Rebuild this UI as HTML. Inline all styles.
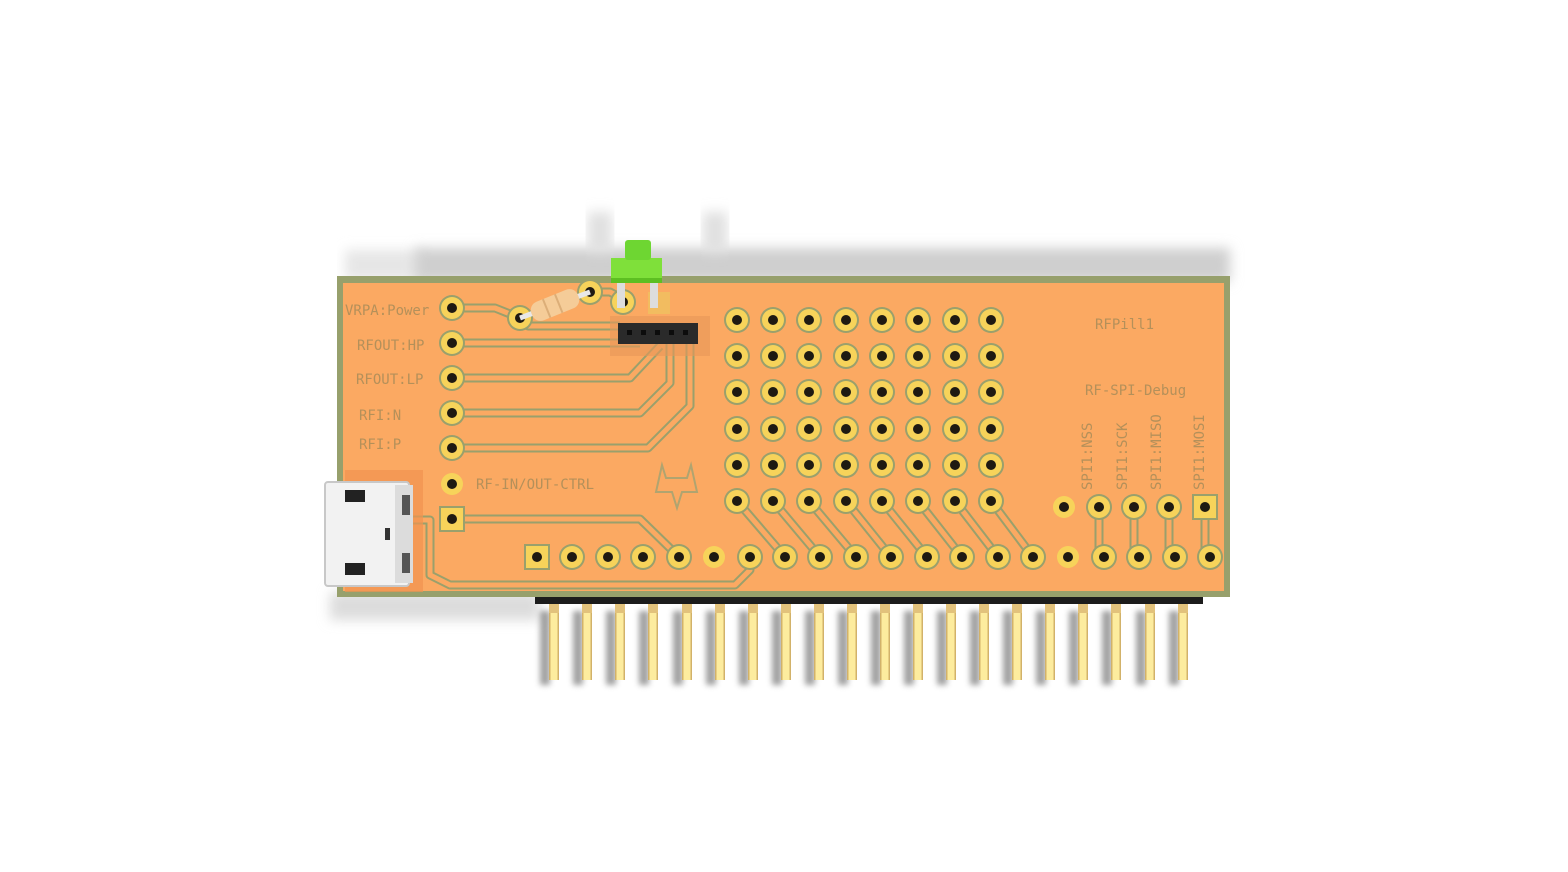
<!DOCTYPE html>
<html><head><meta charset="utf-8"><style>
html,body{margin:0;padding:0;background:#fff;width:1568px;height:872px;overflow:hidden}
text{font-family:"DejaVu Sans Mono","Liberation Mono",monospace;fill:#b4905a}
</style></head><body>
<svg width="1568" height="872" viewBox="0 0 1568 872" xmlns="http://www.w3.org/2000/svg">
<defs>
<filter id="bl" x="-10%" y="-50%" width="120%" height="200%"><feGaussianBlur stdDeviation="6"/></filter>
<filter id="bs" x="-100%" y="-20%" width="300%" height="140%"><feGaussianBlur stdDeviation="3"/></filter>
<g id="p"><circle r="13" fill="#9aa06c"/><circle r="11" fill="#f7d35a"/><circle r="5" fill="#1e1a12"/></g>
<g id="q"><circle r="11" fill="#f7d35a"/><circle r="5" fill="#1e1a12"/></g>
<g id="s"><rect x="-13" y="-13" width="26" height="26" fill="#9aa06c"/><rect x="-11" y="-11" width="22" height="22" fill="#f7d35a"/><circle r="5" fill="#1e1a12"/></g>
<g id="pin"><rect x="-14" y="8" width="10" height="74" fill="#555" opacity="0.55" filter="url(#bs)"/><rect x="-5" y="0" width="10" height="77" fill="#fdec9e"/><rect x="-5" y="0" width="1.5" height="77" fill="#d2b26a"/><rect x="3.5" y="0" width="1.5" height="77" fill="#d2b26a"/><rect x="-5" y="0" width="10" height="10" fill="#e2c27c"/></g>
</defs>
<!-- shadows -->
<rect x="345" y="250" width="80" height="30" fill="#e6e6e6" filter="url(#bl)"/>
<rect x="415" y="248" width="815" height="34" fill="#cfcfcf" filter="url(#bl)"/>
<rect x="588" y="212" width="24" height="40" fill="#e0e0e0" filter="url(#bl)"/>
<rect x="703" y="212" width="24" height="40" fill="#e0e0e0" filter="url(#bl)"/>
<rect x="330" y="592" width="210" height="28" fill="#dcdcdc" filter="url(#bl)"/>
<!-- pins -->
<g>
<use href="#pin" x="554" y="603"/><use href="#pin" x="587" y="603"/><use href="#pin" x="620" y="603"/><use href="#pin" x="653" y="603"/><use href="#pin" x="687" y="603"/><use href="#pin" x="720" y="603"/><use href="#pin" x="753" y="603"/><use href="#pin" x="786" y="603"/><use href="#pin" x="819" y="603"/><use href="#pin" x="852" y="603"/><use href="#pin" x="885" y="603"/><use href="#pin" x="918" y="603"/><use href="#pin" x="951" y="603"/><use href="#pin" x="984" y="603"/><use href="#pin" x="1017" y="603"/><use href="#pin" x="1050" y="603"/><use href="#pin" x="1083" y="603"/><use href="#pin" x="1116" y="603"/><use href="#pin" x="1150" y="603"/><use href="#pin" x="1183" y="603"/>
</g>
<rect x="535" y="596" width="668" height="8" fill="#1c1c1c"/>
<!-- board -->
<rect x="337" y="276" width="893" height="321" fill="#97a06c"/>
<rect x="343" y="283" width="881" height="308" fill="#fba962"/>
<!-- traces -->
<g fill="none" stroke-linejoin="round">
<g stroke="#9aa06c" stroke-width="9">
<path d="M452 308 H495 L520 318"/><path d="M590 292 H610 L625 300"/>
<path d="M452 343 H640"/><path d="M452 378 H630 L660 346"/>
<path d="M452 413 H640 L670 383 V340"/><path d="M452 448 H648 L690 406 V340"/>
<path d="M452 519 H640 L679 557"/>
<path d="M520 318 L528 326 L620 326"/>
<path d="M410 520 H430 V575 L450 585 H735 L750 570 V557"/>
<path d="M737 501 L785 557"/><path d="M773 501 L820 557"/><path d="M809 501 L856 557"/><path d="M846 501 L891 557"/><path d="M882 501 L927 557"/><path d="M918 501 L962 557"/><path d="M955 501 L998 557"/><path d="M991 501 L1033 557"/>
<path d="M1099 507 V557"/><path d="M1134 507 V557"/><path d="M1169 507 V557"/><path d="M1205 507 V557"/>
</g>
<g stroke="#fba962" stroke-width="5">
<path d="M452 308 H495 L520 318"/><path d="M590 292 H610 L625 300"/>
<path d="M452 343 H640"/><path d="M452 378 H630 L660 346"/>
<path d="M452 413 H640 L670 383 V340"/><path d="M452 448 H648 L690 406 V340"/>
<path d="M452 519 H640 L679 557"/>
<path d="M520 318 L528 326 L620 326"/>
<path d="M410 520 H430 V575 L450 585 H735 L750 570 V557"/>
<path d="M737 501 L785 557"/><path d="M773 501 L820 557"/><path d="M809 501 L856 557"/><path d="M846 501 L891 557"/><path d="M882 501 L927 557"/><path d="M918 501 L962 557"/><path d="M955 501 L998 557"/><path d="M991 501 L1033 557"/>
<path d="M1099 507 V557"/><path d="M1134 507 V557"/><path d="M1169 507 V557"/><path d="M1205 507 V557"/>
</g>
</g>
<!-- logo -->
<path d="M662 465 L656 492 L672 492 L677 508 L682 492 L697 492 L691 465 L687 478 H666 Z" fill="none" stroke="#b0a470" stroke-width="2"/>
<!-- grid pads -->
<g>
<use href="#p" x="737" y="320"/><use href="#p" x="773" y="320"/><use href="#p" x="809" y="320"/><use href="#p" x="846" y="320"/><use href="#p" x="882" y="320"/><use href="#p" x="918" y="320"/><use href="#p" x="955" y="320"/><use href="#p" x="991" y="320"/>
<use href="#p" x="737" y="356"/><use href="#p" x="773" y="356"/><use href="#p" x="809" y="356"/><use href="#p" x="846" y="356"/><use href="#p" x="882" y="356"/><use href="#p" x="918" y="356"/><use href="#p" x="955" y="356"/><use href="#p" x="991" y="356"/>
<use href="#p" x="737" y="392"/><use href="#p" x="773" y="392"/><use href="#p" x="809" y="392"/><use href="#p" x="846" y="392"/><use href="#p" x="882" y="392"/><use href="#p" x="918" y="392"/><use href="#p" x="955" y="392"/><use href="#p" x="991" y="392"/>
<use href="#p" x="737" y="429"/><use href="#p" x="773" y="429"/><use href="#p" x="809" y="429"/><use href="#p" x="846" y="429"/><use href="#p" x="882" y="429"/><use href="#p" x="918" y="429"/><use href="#p" x="955" y="429"/><use href="#p" x="991" y="429"/>
<use href="#p" x="737" y="465"/><use href="#p" x="773" y="465"/><use href="#p" x="809" y="465"/><use href="#p" x="846" y="465"/><use href="#p" x="882" y="465"/><use href="#p" x="918" y="465"/><use href="#p" x="955" y="465"/><use href="#p" x="991" y="465"/>
<use href="#p" x="737" y="501"/><use href="#p" x="773" y="501"/><use href="#p" x="809" y="501"/><use href="#p" x="846" y="501"/><use href="#p" x="882" y="501"/><use href="#p" x="918" y="501"/><use href="#p" x="955" y="501"/><use href="#p" x="991" y="501"/>
</g>
<!-- bottom row -->
<g>
<use href="#s" x="537" y="557"/><use href="#p" x="572" y="557"/><use href="#p" x="608" y="557"/><use href="#p" x="643" y="557"/><use href="#p" x="679" y="557"/><use href="#q" x="714" y="557"/><use href="#p" x="750" y="557"/><use href="#p" x="785" y="557"/><use href="#p" x="820" y="557"/><use href="#p" x="856" y="557"/><use href="#p" x="891" y="557"/><use href="#p" x="927" y="557"/><use href="#p" x="962" y="557"/><use href="#p" x="998" y="557"/><use href="#p" x="1033" y="557"/><use href="#q" x="1068" y="557"/><use href="#p" x="1104" y="557"/><use href="#p" x="1139" y="557"/><use href="#p" x="1175" y="557"/><use href="#p" x="1210" y="557"/>
<use href="#q" x="1064" y="507"/><use href="#p" x="1099" y="507"/><use href="#p" x="1134" y="507"/><use href="#p" x="1169" y="507"/><use href="#s" x="1205" y="507"/>
<use href="#p" x="452" y="308"/><use href="#p" x="452" y="343"/><use href="#p" x="452" y="378"/><use href="#p" x="452" y="413"/><use href="#p" x="452" y="448"/><use href="#q" x="452" y="484"/><use href="#s" x="452" y="519"/>
<use href="#p" x="520" y="318"/><use href="#p" x="590" y="292"/><use href="#p" x="623" y="302"/>
<rect x="648" y="292" width="22" height="22" fill="#f0c060" opacity="0.8"/>
</g>
<!-- texts -->
<g font-size="14">
<text x="345" y="315">VRPA:Power</text>
<text x="357" y="350">RFOUT:HP</text>
<text x="356" y="384">RFOUT:LP</text>
<text x="359" y="420">RFI:N</text>
<text x="359" y="449">RFI:P</text>
<text x="476" y="489">RF-IN/OUT-CTRL</text>
<text x="1095" y="329">RFPill1</text>
<text x="1085" y="395">RF-SPI-Debug</text>
<text transform="translate(1092,490) rotate(-90)">SPI1:NSS</text>
<text transform="translate(1127,490) rotate(-90)">SPI1:SCK</text>
<text transform="translate(1161,490) rotate(-90)">SPI1:MISO</text>
<text transform="translate(1204,490) rotate(-90)">SPI1:MOSI</text>
</g>
<!-- resistor -->
<line x1="520" y1="318" x2="590" y2="292" stroke="#e8e8e8" stroke-width="5"/>
<g transform="translate(555,305) rotate(-22)"><rect x="-25" y="-10" width="50" height="20" rx="9" fill="#f5cc98"/><rect x="-10" y="-10" width="2" height="20" fill="#dcae78"/><rect x="3" y="-10" width="2" height="20" fill="#dcae78"/></g>
<!-- header 5-pin -->
<rect x="610" y="316" width="100" height="40" fill="#e89858" opacity="0.6"/>
<rect x="618" y="323" width="80" height="21" fill="#2a2a2a"/>
<g fill="#0c0c0c"><rect x="627" y="330" width="5" height="5"/><rect x="641" y="330" width="5" height="5"/><rect x="655" y="330" width="5" height="5"/><rect x="669" y="330" width="5" height="5"/><rect x="683" y="330" width="5" height="5"/></g>
<!-- button green -->
<rect x="617" y="283" width="8" height="25" fill="#ddd"/><rect x="650" y="283" width="8" height="25" fill="#ddd"/>
<rect x="611" y="258" width="51" height="25" fill="#7fe03a"/>
<rect x="611" y="278" width="51" height="5" fill="#5dbf22"/>
<rect x="625" y="240" width="26" height="20" rx="3" fill="#6ed632"/>
<!-- USB -->
<rect x="345" y="470" width="78" height="122" fill="#f19350" opacity="0.7"/>
<rect x="325" y="482" width="84" height="104" rx="3" fill="#f2f2f2" stroke="#c8c8c8" stroke-width="2"/>
<rect x="395" y="485" width="18" height="98" fill="#dcdcdc"/>
<rect x="345" y="490" width="20" height="12" fill="#222"/><rect x="345" y="563" width="20" height="12" fill="#222"/>
<rect x="385" y="528" width="5" height="12" fill="#333"/>
<rect x="402" y="495" width="8" height="20" fill="#555"/><rect x="402" y="553" width="8" height="20" fill="#555"/>
</svg>
</body></html>
